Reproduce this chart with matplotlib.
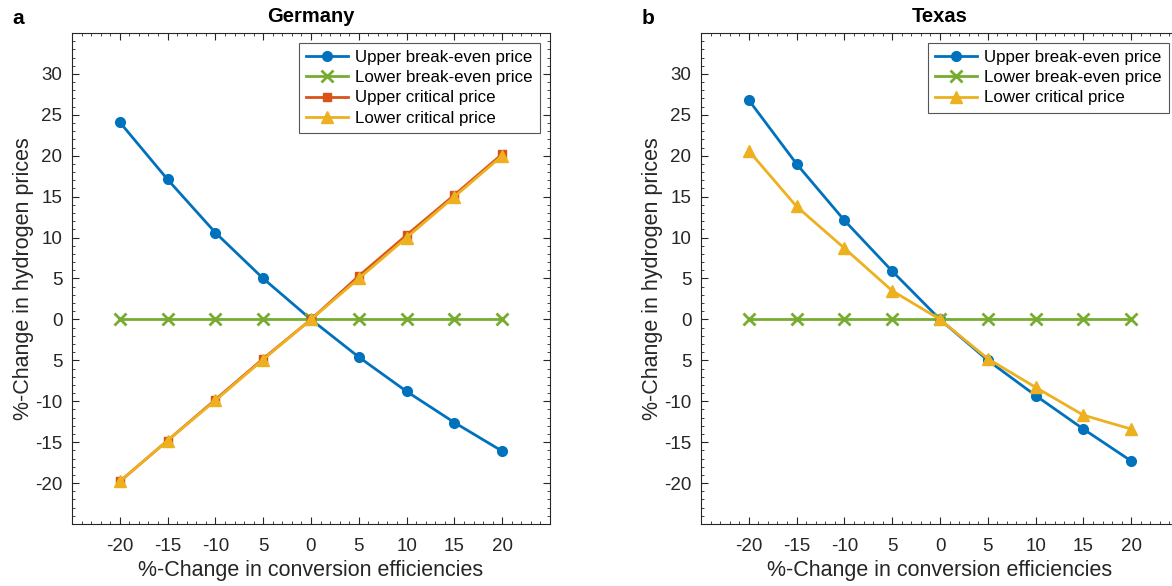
import matplotlib
matplotlib.use("Agg")
import matplotlib.pyplot as plt
from matplotlib.ticker import MultipleLocator, FixedLocator

plt.rcParams['font.family'] = ['Liberation Sans', 'DejaVu Sans']

x = [-20, -15, -10, -5, 0, 5, 10, 15, 20]
xtick_labels = ['-20', '-15', '-10', '5', '0', '5', '10', '15', '20']
yticks = [-20, -15, -10, -5, 0, 5, 10, 15, 20, 25, 30]
ytick_labels = ['-20', '-15', '-10', '5', '0', '5', '10', '15', '20', '25', '30']

# Germany
de_upper_be = [24.1, 17.1, 10.6, 5.0, 0.0, -4.6, -8.8, -12.6, -16.1]
de_lower_be = [0, 0, 0, 0, 0, 0, 0, 0, 0]
de_upper_crit = [-19.8, -14.8, -9.8, -4.8, 0.0, 5.3, 10.3, 15.2, 20.2]
de_lower_crit = [-19.8, -14.8, -9.9, -4.9, 0.0, 5.0, 10.0, 15.0, 20.0]

# Texas
tx_upper_be = [26.8, 19.0, 12.1, 5.9, 0.0, -5.0, -9.3, -13.4, -17.3]
tx_lower_be = [0, 0, 0, 0, 0, 0, 0, 0, 0]
tx_lower_crit = [20.6, 13.8, 8.7, 3.5, 0.0, -4.8, -8.3, -11.7, -13.4]

C_BLUE = '#0072BD'
C_GREEN = '#77AC30'
C_RED = '#D95319'
C_YEL = '#EDB120'

fig = plt.figure(figsize=(11.72, 5.86), dpi=100)
ax1 = fig.add_axes([72/1172, 1-524/586, 478/1172, 491/586])
ax2 = fig.add_axes([701/1172, 1-524/586, 478/1172, 491/586])

lw = 2.0

def style(ax):
    ax.set_xlim(-25, 25)
    ax.set_ylim(-25, 35)
    ax.xaxis.set_major_locator(FixedLocator(x))
    ax.set_xticklabels(xtick_labels)
    ax.yaxis.set_major_locator(FixedLocator(yticks))
    ax.set_yticklabels(ytick_labels)
    ax.xaxis.set_minor_locator(MultipleLocator(1))
    ax.yaxis.set_minor_locator(MultipleLocator(1))
    ax.tick_params(which='both', direction='in', top=True, right=True,
                   colors='#262626', labelcolor='#262626', labelsize=13.5)
    ax.tick_params(which='major', length=5, width=0.8)
    ax.tick_params(which='minor', length=2.5, width=0.6)
    ax.tick_params(axis='x', which='major', pad=10)
    ax.tick_params(axis='y', which='major', pad=7)
    for s in ax.spines.values():
        s.set_color('#262626')
        s.set_linewidth(0.8)
    ax.set_xlabel('%-Change in conversion efficiencies', fontsize=15.5, color='#262626', labelpad=4)
    ax.set_ylabel('%-Change in hydrogen prices', fontsize=15.5, color='#262626', labelpad=1)

ax1.plot(x, de_upper_be, '-o', color=C_BLUE, lw=lw, ms=7, label='Upper break-even price')
ax1.plot(x, de_lower_be, '-x', color=C_GREEN, lw=lw, ms=9, mew=2, label='Lower break-even price')
ax1.plot(x, de_upper_crit, '-s', color=C_RED, lw=lw, ms=6, label='Upper critical price')
ax1.plot(x, de_lower_crit, '-^', color=C_YEL, lw=lw, ms=8, label='Lower critical price')
style(ax1)
ax1.set_title('Germany', fontsize=14.5, fontweight='bold', pad=8)

ax2.plot(x, tx_upper_be, '-o', color=C_BLUE, lw=lw, ms=7, label='Upper break-even price')
ax2.plot(x, tx_lower_be, '-x', color=C_GREEN, lw=lw, ms=9, mew=2, label='Lower break-even price')
ax2.plot(x, tx_lower_crit, '-^', color=C_YEL, lw=lw, ms=8, label='Lower critical price')
style(ax2)
ax2.set_title('Texas', fontsize=14.5, fontweight='bold', pad=8)

for ax in (ax1, ax2):
    leg = ax.legend(loc='upper right', fontsize=12.2, frameon=True, fancybox=False,
                    edgecolor='#555555', framealpha=1, handlelength=2.5,
                    borderpad=0.42, labelspacing=0.3, handletextpad=0.4,
                    borderaxespad=0.6)
    leg.get_frame().set_linewidth(0.8)

fig.text(18/1172, 1-18/586, 'a', fontsize=15, fontweight='bold', va='center', ha='center')
fig.text(648/1172, 1-18/586, 'b', fontsize=15, fontweight='bold', va='center', ha='center')

fig.savefig('out.png', dpi=100)
